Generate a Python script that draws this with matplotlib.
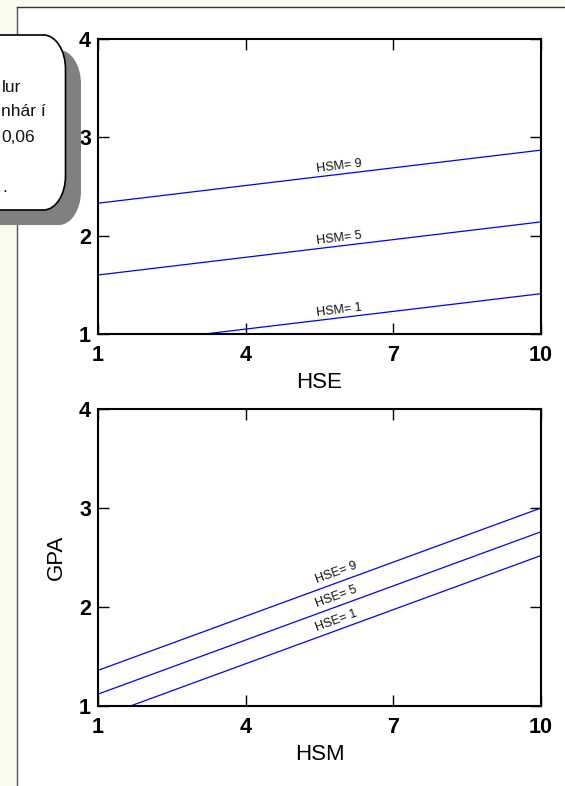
import math
import matplotlib
matplotlib.use("Agg")
import matplotlib.pyplot as plt
from matplotlib.path import Path
from matplotlib.patches import PathPatch, Rectangle
from matplotlib.lines import Line2D

plt.rcParams['font.family'] = ['Liberation Sans', 'DejaVu Sans']

# ---------------- data ----------------
x_range = [1, 10]
x_ticks = [1, 4, 7, 10]
y_ticks = [1, 2, 3, 4]

# top panel: GPA vs HSE for fixed HSM
top_levels = ["HSM= 1", "HSM= 5", "HSM= 9"]
top_gpa_start = [0.87, 1.60, 2.33]
top_gpa_end = [1.41, 2.14, 2.87]

# bottom panel: GPA vs HSM for fixed HSE
bot_levels = ["HSE= 1", "HSE= 5", "HSE= 9"]
bot_gpa_start = [0.88, 1.12, 1.36]
bot_gpa_end = [2.52, 2.76, 3.00]

label_x = 5.45

callout_lines = ["lur", "nhár í", "0,06", "."]

# ---------------- figure ----------------
W, H = 565, 786
fig = plt.figure(figsize=(W / 100, H / 100), dpi=100)
fig.patch.set_facecolor("white")

# background overlay in pixel coordinates (y downwards)
bg = fig.add_axes([0, 0, 1, 1], zorder=0)
bg.set_xlim(0, W)
bg.set_ylim(H, 0)
bg.axis("off")
pale = "#F9FBEF"
bg.add_patch(Rectangle((0, 0), 16.5, H, facecolor=pale, edgecolor="none"))
bg.add_patch(Rectangle((0, 0), W, 6.5, facecolor=pale, edgecolor="none"))
bg.add_line(Line2D([16.5, 16.5], [6.5, H], color="#555555", lw=1.0))
bg.add_line(Line2D([16.5, W], [6.5, 6.5], color="#333333", lw=1.0))


def fig_px(x0, y0, x1, y1):
    return [x0 / W, 1 - y1 / H, (x1 - x0) / W, (y1 - y0) / H]


def style_axes(ax, xlabel, ylabel=None):
    ax.set_xlim(*x_range)
    ax.set_ylim(1, 4)
    ax.set_xticks(x_ticks)
    ax.set_yticks(y_ticks)
    ax.set_xticklabels([str(t) for t in x_ticks], fontweight="bold", fontsize=15.5)
    ax.set_yticklabels([str(t) for t in y_ticks], fontweight="bold", fontsize=15.5)
    ax.tick_params(direction="in", length=8, width=1.0, top=True, right=True,
                   colors="black")
    ax.tick_params(axis="x", pad=8)
    ax.tick_params(axis="y", pad=5)
    for s in ax.spines.values():
        s.set_linewidth(1.5)
    ax.set_xlabel(xlabel, fontsize=16, labelpad=4.5)
    if ylabel:
        ax.set_ylabel(ylabel, fontsize=16, labelpad=9)


def draw_lines(ax, starts, ends, labels, offset):
    for s, e, lab in zip(starts, ends, labels):
        ax.plot(x_range, [s, e], color="#0000FF", lw=0.9)
        p1 = ax.transData.transform((x_range[0], s))
        p2 = ax.transData.transform((x_range[1], e))
        ang = math.degrees(math.atan2(p2[1] - p1[1], p2[0] - p1[0]))
        y_at = s + (e - s) * (label_x - x_range[0]) / (x_range[1] - x_range[0])
        ax.annotate(lab, xy=(label_x, y_at), xytext=(0, offset),
                    textcoords="offset points", rotation=ang,
                    rotation_mode="anchor", ha="left", va="baseline",
                    fontsize=9, color="#111111")


ax1 = fig.add_axes(fig_px(98, 39, 541, 334), zorder=2)
style_axes(ax1, "HSE")
draw_lines(ax1, top_gpa_start, top_gpa_end, top_levels, 3.5)

ax2 = fig.add_axes(fig_px(98, 409, 541, 706), zorder=2)
style_axes(ax2, "HSM", "GPA")
draw_lines(ax2, bot_gpa_start, bot_gpa_end, bot_levels, 5)

# ---------------- callout box ----------------
def rounded_box(x0, y0, x1, y1, rx, ry):
    k = 0.5523
    verts = [
        (x0, y0),
        (x1 - rx, y0),
        (x1 - rx + rx * k, y0), (x1, y0 + ry - ry * k), (x1, y0 + ry),
        (x1, y1 - ry),
        (x1, y1 - ry + ry * k), (x1 - rx + rx * k, y1), (x1 - rx, y1),
        (x0, y1),
        (x0, y0),
    ]
    codes = [Path.MOVETO, Path.LINETO,
             Path.CURVE4, Path.CURVE4, Path.CURVE4,
             Path.LINETO,
             Path.CURVE4, Path.CURVE4, Path.CURVE4,
             Path.LINETO, Path.CLOSEPOLY]
    return Path(verts, codes)

top_ax = fig.add_axes([0, 0, 1, 1], zorder=3)
top_ax.set_xlim(0, W)
top_ax.set_ylim(H, 0)
top_ax.axis("off")
top_ax.patch.set_alpha(0)
top_ax.add_patch(PathPatch(rounded_box(-40, 50, 81, 225, 22, 34),
                           facecolor="#808080", edgecolor="none"))
top_ax.add_patch(PathPatch(rounded_box(-40, 35, 65.5, 210, 22, 34),
                           facecolor="white", edgecolor="black", lw=1.2))
text_left = [1.5, 1.0, 1.0, 2.0]
text_y = [87, 112, 138, 188]
for t, xl, yy in zip(callout_lines, text_left, text_y):
    top_ax.text(xl, yy, t, ha="left", va="center", fontsize=12.5, color="#111111")

fig.savefig("out.png", dpi=100)
